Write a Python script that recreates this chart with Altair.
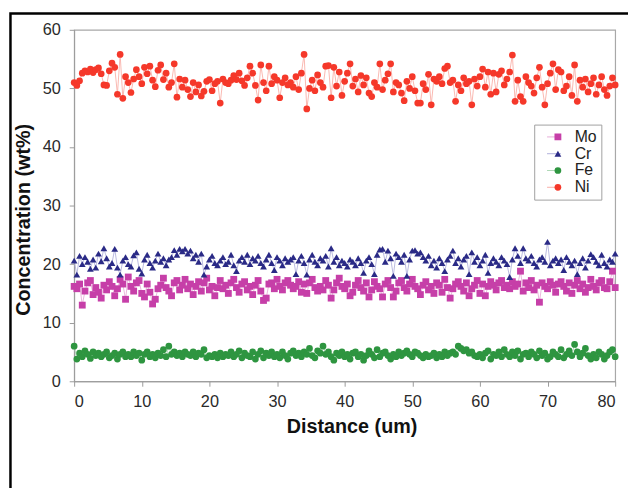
import altair as alt
import pandas as pd

step = 0.4
n_points = 201
distance = [round(i * step, 1) for i in range(n_points)]

series_names = ["Mo", "Cr", "Fe", "Ni"]

ni = [
    51.0, 50.5, 51.3, 52.6, 53.0, 52.8, 53.3, 52.7, 53.2, 53.5, 52.5, 50.6, 50.5, 53.0, 54.3, 53.6, 49.0, 55.8, 48.3, 52.0,
    51.0, 49.3, 51.6, 53.2, 52.0, 50.8, 53.6, 52.5, 53.8, 51.4, 50.3, 53.1, 54.0, 51.5, 52.6, 50.2, 51.0, 54.2, 48.5, 51.6,
    50.2, 51.4, 49.8, 48.6, 51.0, 49.4, 50.6, 48.7, 49.5, 51.2, 51.5, 49.6, 50.8, 51.2, 47.5, 51.6, 51.0, 50.8, 51.4, 52.2,
    51.5, 52.6, 51.3, 50.5, 51.8, 53.8, 52.6, 50.5, 48.0, 54.0, 51.0, 49.6, 53.8, 50.8, 52.0, 51.4, 48.4, 51.0, 51.8, 50.6,
    51.0, 50.2, 52.0, 49.8, 52.6, 55.8, 46.5, 50.0, 51.4, 49.6, 52.3, 51.0, 50.2, 53.8, 53.9, 48.4, 53.6, 50.4, 52.8, 48.8,
    51.2, 52.6, 54.2, 50.4, 51.6, 49.4, 52.2, 50.6, 51.8, 49.2, 48.6, 51.0, 50.2, 54.2, 49.8, 51.4, 52.5, 54.2, 49.4, 51.0,
    50.6, 49.2, 47.9, 51.2, 50.0, 52.0, 49.6, 47.5, 47.5, 50.8, 49.8, 52.4, 47.2, 51.6, 51.2, 52.0, 50.8, 53.4, 53.8, 51.0,
    51.4, 47.8, 50.6, 49.6, 51.8, 50.8, 51.2, 47.2, 51.6, 50.4, 52.0, 53.3, 50.2, 52.8, 49.0, 52.6, 49.4, 52.4, 53.0, 50.6,
    51.6, 52.8, 55.7, 47.8, 51.4, 48.6, 47.8, 52.0, 51.0, 50.4, 49.2, 51.8, 53.6, 50.2, 47.2, 50.8, 52.6, 54.2, 49.8, 53.2,
    52.8, 49.6, 50.4, 52.0, 48.8, 54.0, 47.8, 51.4, 50.2, 51.6, 49.4, 50.8, 51.8, 49.0, 50.6, 52.0, 49.8, 48.8, 50.4, 51.8,
    50.6,
]

cr = [
    20.6, 18.2, 21.4, 20.0, 21.2, 20.4, 19.2, 20.8, 19.4, 21.8, 20.5, 22.7, 21.0, 19.6, 20.2, 22.6, 19.4, 18.2, 20.6, 21.2,
    20.0, 19.6, 21.5, 22.0, 19.2, 18.4, 20.8, 21.6, 20.2, 19.4, 20.6, 21.8, 20.4, 21.0, 19.8, 20.8, 21.2, 22.4, 21.6, 22.6,
    22.2, 22.6, 21.8, 22.3, 21.0, 21.6, 20.4, 21.8, 18.2, 19.6, 20.8, 21.4, 20.2, 19.8, 20.6, 21.2, 20.0, 20.4, 21.6, 19.8,
    18.8, 20.6, 21.2, 20.4, 21.6, 20.0, 21.0, 20.6, 21.4, 20.2, 19.6, 20.8, 21.6, 20.2, 19.0, 21.2, 20.6, 19.8, 21.0, 20.4,
    20.8, 21.2, 18.3, 20.6, 21.4, 20.2, 18.2, 20.8, 21.6, 20.4, 19.8, 21.0, 20.6, 21.4, 19.6, 22.7, 20.4, 21.2, 19.8, 20.6,
    20.2, 19.6, 20.8, 20.4, 19.8, 21.0, 20.2, 18.5, 20.6, 21.2, 20.0, 18.3, 21.6, 22.5, 22.6, 20.4, 22.3, 21.0, 18.0, 21.8,
    21.2, 20.4, 21.6, 18.0, 20.8, 22.3, 22.4, 21.8, 22.0, 21.2, 20.6, 21.4, 19.8, 20.6, 19.4, 21.0, 20.2, 18.8, 20.8, 21.4,
    22.3, 20.2, 21.0, 19.6, 20.8, 21.4, 18.3, 22.0, 20.4, 21.2, 19.8, 20.6, 21.6, 18.5, 20.2, 21.0, 20.4, 19.8, 21.2, 20.6,
    20.0, 17.8, 20.8, 22.7, 21.4, 20.2, 22.7, 21.0, 20.6, 21.4, 20.2, 19.6, 20.8, 21.2, 20.4, 23.8, 19.8, 20.6, 21.0, 20.2,
    20.8, 19.0, 21.2, 20.4, 19.8, 20.6, 18.3, 20.2, 21.0, 19.4, 20.6, 21.7, 21.2, 20.4, 19.8, 21.6, 20.2, 19.6, 20.8, 20.4,
    21.8,
]

mo = [
    16.2, 15.8, 16.6, 13.0, 15.4, 16.8, 17.2, 14.8, 16.0, 15.2, 14.2, 16.4, 15.6, 17.0, 16.2, 14.6, 15.8, 17.4, 16.6, 14.0,
    17.8, 16.2, 15.4, 16.8, 17.2, 15.0, 14.4, 16.6, 15.2, 13.2, 14.0, 15.8, 16.4, 17.6, 16.0, 15.4, 14.6, 16.8, 17.2, 15.6,
    16.4, 17.4, 15.8, 16.6, 14.8, 16.2, 17.0, 15.4, 16.8, 17.6, 15.6, 16.2, 14.6, 16.0, 17.2, 15.8, 16.4, 15.0, 16.8, 17.4,
    16.0, 15.2, 16.6, 17.0, 15.6, 16.2, 14.8, 16.4, 17.2, 15.4, 13.8, 14.2, 16.6, 16.8, 15.8, 17.4, 16.2, 15.6, 16.8, 17.2,
    16.4, 15.8, 16.2, 17.0, 15.2, 16.6, 15.0, 16.8, 17.4, 16.0, 15.4, 16.2, 15.6, 17.2, 16.4, 14.2, 15.6, 16.8, 17.6, 16.2,
    15.8, 16.6, 14.6, 15.2, 16.4, 17.2, 16.0, 15.4, 16.8, 14.4, 15.6, 17.0, 16.2, 15.8, 14.4, 16.6, 17.2, 16.0, 14.4, 15.4,
    16.8, 17.2, 16.0, 15.4, 16.6, 17.4, 16.2, 15.8, 14.8, 16.4, 17.0, 15.6, 16.2, 15.0, 16.8, 16.4, 15.2, 17.4, 16.0, 14.2,
    15.8, 16.6, 17.0, 16.2, 15.4, 16.8, 14.6, 15.8, 16.4, 17.2, 15.0, 16.6, 14.6, 16.2, 17.0, 16.4, 15.6, 16.8, 17.2, 16.0,
    16.4, 15.8, 17.0, 16.2, 16.6, 18.8, 15.4, 16.8, 16.0, 17.2, 15.6, 16.4, 13.5, 16.8, 16.2, 15.8, 17.0, 16.4, 15.2, 16.6,
    17.0, 16.2, 15.4, 16.8, 15.0, 16.4, 17.2, 15.8, 16.6, 15.2, 16.0, 17.4, 16.2, 15.6, 16.8, 17.2, 16.0, 15.8, 17.0, 18.8,
    16.0,
]

fe = [
    6.0, 3.8, 4.8, 4.2, 5.2, 4.6, 3.9, 5.0, 4.4, 4.8, 4.2, 4.6, 5.0, 4.0, 4.4, 4.8, 3.8, 4.6, 5.0, 4.2,
    4.6, 4.2, 5.0, 4.4, 4.8, 3.6, 4.6, 5.0, 4.2, 4.6, 4.0, 4.8, 4.4, 5.4, 4.2, 6.0, 4.6, 5.0, 4.4, 4.8,
    4.2, 5.0, 4.6, 4.4, 5.0, 4.2, 4.8, 4.6, 5.4, 4.0, 4.4, 4.2, 4.6, 4.0, 4.8, 4.2, 4.6, 4.4, 5.0, 4.2,
    4.6, 5.2, 4.0, 4.8, 4.4, 4.2, 5.0, 3.8, 4.6, 5.2, 4.0, 4.8, 4.4, 5.0, 4.2, 4.6, 4.0, 5.0, 4.4, 3.8,
    4.8, 5.2, 4.4, 4.8, 4.2, 5.0, 4.6, 5.6, 4.4, 4.0, 5.2, 4.8, 6.0, 4.6, 5.0, 4.2, 3.6, 4.8, 4.4, 5.0,
    4.2, 4.6, 3.8, 4.8, 5.0, 4.2, 4.6, 3.6, 4.4, 5.2, 4.6, 4.0, 5.4, 4.2, 4.8, 5.0, 4.4, 3.8, 4.6, 4.2,
    5.0, 4.4, 4.8, 5.2, 4.6, 4.2, 5.0, 4.8, 4.4, 4.0, 4.6, 4.2, 4.4, 4.8, 4.0, 4.6, 4.2, 5.0, 4.4, 4.8,
    5.0, 4.6, 6.0, 5.6, 5.2, 5.4, 4.8, 5.0, 4.4, 4.2, 4.6, 4.0, 4.8, 5.2, 3.8, 4.6, 4.4, 5.0, 4.2, 5.4,
    4.6, 4.2, 5.0, 4.4, 5.2, 3.8, 4.6, 4.8, 4.2, 5.0, 4.6, 4.0, 5.2, 4.4, 4.8, 3.8, 4.2, 5.0, 4.6, 4.2,
    5.4, 4.0, 4.6, 5.2, 4.4, 6.3, 5.0, 4.2, 4.8, 5.6, 4.4, 3.8, 4.6, 4.0, 5.0, 4.6, 3.8, 4.4, 5.0, 5.4,
    4.2,
]

values = {"Mo": mo, "Cr": cr, "Fe": fe, "Ni": ni}
point_colors = ["#C63FA8", "#2A2A86", "#2E9540", "#F5382A"]
line_colors = ["#E6A6D6", "#A9A9D8", "#A6D3AE", "#F9A79E"]
shapes = ["square", "triangle-up", "circle", "circle"]
sizes = [48, 46, 10, 15]

line_keys = [s + " line" for s in series_names]

rows = []
for name, lk in zip(series_names, line_keys):
    for d, v in zip(distance, values[name]):
        rows.append({"Distance": d, "Concentration": v, "Element": name, "Trace": lk})
df = pd.DataFrame(rows)

x_enc = alt.X("Distance:Q", scale=alt.Scale(domain=[0, 80], nice=False),
              axis=alt.Axis(values=list(range(0, 81, 10)), title="Distance (um)", titleX=281))
y_enc = alt.Y("Concentration:Q", scale=alt.Scale(domain=[0, 60], nice=False),
              axis=alt.Axis(values=list(range(0, 61, 10)), title="Concentration (wt%)", titleY=192))

LX, LY = 466, 96

line_legend = alt.Legend(title=None, orient="none", legendX=LX, legendY=LY,
                         symbolType="stroke", symbolSize=196, symbolStrokeWidth=1,
                         padding=4, symbolOffset=8, clipHeight=17, rowPadding=0,
                         labelExpr="' '", labelFontSize=16, labelFont="Liberation Sans")

point_legend = alt.Legend(title=None, orient="none", legendX=LX, legendY=LY,
                          padding=4, strokeColor="#A0A0A0", symbolOffset=12,
                          clipHeight=17, rowPadding=0, labelOffset=9,
                          labelFontSize=16, labelFont="Liberation Sans", labelColor="#222")

base = alt.Chart(df)

lines = base.mark_line(strokeWidth=0.9, opacity=0.9).encode(
    x=x_enc, y=y_enc,
    color=alt.Color("Trace:N", scale=alt.Scale(domain=line_keys, range=line_colors),
                    legend=line_legend),
    detail="Element:N",
)

points = base.mark_point(filled=True, opacity=1).encode(
    x=x_enc, y=y_enc,
    color=alt.Color("Element:N", scale=alt.Scale(domain=series_names, range=point_colors),
                    legend=point_legend),
    shape=alt.Shape("Element:N", scale=alt.Scale(domain=series_names, range=shapes),
                    legend=point_legend),
    size=alt.Size("Element:N", scale=alt.Scale(domain=series_names, range=sizes),
                  legend=point_legend),
)

frame = alt.Chart(pd.DataFrame({"k": [0]})).mark_rect(
    fill="white", fillOpacity=0, stroke="black", strokeWidth=2.5
).encode(
    x=alt.value(-64.5), x2=alt.value(600), y=alt.value(-16.5), y2=alt.value(480)
)

chart = alt.layer(lines, points, frame).resolve_scale(
    color="independent", shape="independent", size="independent"
).resolve_legend(
    color="independent", shape="independent", size="independent"
).properties(
    width=548, height=356,
    autosize=alt.AutoSizeParams(type="none"),
    padding={"left": 67, "top": 19, "right": 13, "bottom": 105},
).configure_view(stroke="#A8A8A8", strokeWidth=1.2).configure_axis(
    grid=False, domainColor="#9A9A9A", tickColor="#9A9A9A", tickSize=5,
    labelFont="Liberation Sans", labelFontSize=16.5, labelColor="#2A2A2A",
    titleFont="Liberation Sans", titleFontSize=20, titleFontWeight="bold", titleColor="#111",
).configure_axisX(labelPadding=8, titlePadding=6).configure_axisY(labelPadding=9, titlePadding=9)

chart.save("out.html", embed_options={"renderer": "svg", "actions": False})
